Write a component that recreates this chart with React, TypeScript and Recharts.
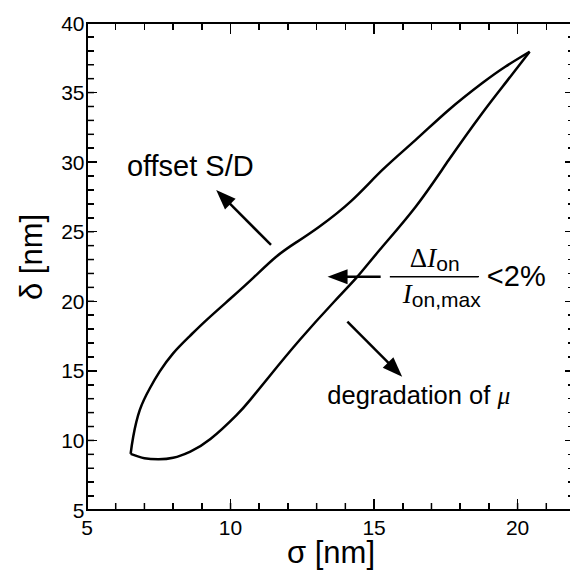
import React from 'react';
import { LineChart, Line, XAxis, YAxis, ReferenceLine, ReferenceDot, Label } from 'recharts';

// Upper branch of the loop (sigma [nm], delta [nm])
const upperSigma = [6.52, 6.61, 6.84, 7.19, 7.53, 8.0, 8.58, 9.16, 10.0, 10.8, 11.59, 12.3, 13.09, 14.2, 15.29, 16.45, 17.6, 18.76, 19.57, 20.42];
const upperDelta = [9.03, 10.27, 12.19, 13.75, 14.94, 16.26, 17.5, 18.65, 20.2, 21.7, 23.2, 24.25, 25.36, 27.2, 29.44, 31.6, 33.75, 35.67, 36.86, 37.94];
// Lower branch of the loop
const lowerSigma = [6.52, 7.0, 7.5, 8.0, 8.6, 9.3, 10.2, 10.7, 11.35, 12.4, 13.6, 14.42, 15.2, 16.45, 17.6, 18.76, 19.6, 20.42];
const lowerDelta = [9.03, 8.72, 8.64, 8.75, 9.2, 10.1, 11.8, 12.95, 14.6, 17.2, 19.95, 21.77, 23.7, 26.8, 30.15, 33.5, 35.75, 37.94];

const xMin = 5;
const xMax = 22;
const yMin = 5;
const yMax = 40;
const xTicks = [5, 6, 7, 8, 9, 10, 11, 12, 13, 14, 15, 16, 17, 18, 19, 20, 21, 22];
const yTicks = [5, 6, 7, 8, 9, 10, 11, 12, 13, 14, 15, 16, 17, 18, 19, 20, 21, 22, 23, 24, 25, 26, 27, 28, 29, 30, 31, 32, 33, 34, 35, 36, 37, 38, 39, 40];
const xLabeled = [5, 10, 15, 20];
const yLabeled = [5, 10, 15, 20, 25, 30, 35, 40];

// annotation arrows: [tail, head] in data coordinates
const arrowOffset = [{ x: 11.41, y: 24.05 }, { x: 9.5, y: 28.0 }];
const arrowMiddle = [{ x: 15.23, y: 21.77 }, { x: 13.38, y: 21.77 }];
const arrowDegr = [{ x: 14.07, y: 18.53 }, { x: 15.98, y: 14.58 }];
// fraction bar of the ΔI/I annotation
const fractionBar = [{ x: 15.55, y: 21.77 }, { x: 18.64, y: 21.77 }];
// annotation text anchors
const offsetTextPos = { x: 6.39, y: 29.0 };
const fractionPos = { x: 15.55, y: 21.77 };
const degrTextPos = { x: 13.37, y: 12.6 };

const upperData = upperSigma.map((x, i) => ({ x, y: upperDelta[i] }));
const lowerData = lowerSigma.map((x, i) => ({ x, y: lowerDelta[i] }));

const SANS = '"Liberation Sans", Arial, Helvetica, sans-serif';
const SERIF = '"Liberation Serif", "Times New Roman", serif';

// chart layout
const CHART_W = 570;
const CHART_H = 564;
const MARGIN = { top: 14, right: 2, bottom: 0, left: 0 };
const Y_AXIS_W = 79;
const X_AXIS_H = 62;
const TOP_AXIS_H = 1;
const RIGHT_AXIS_W = 1;
const PLOT_L = MARGIN.left + Y_AXIS_W;
const PLOT_R = CHART_W - MARGIN.right - RIGHT_AXIS_W;
const PLOT_T = MARGIN.top + TOP_AXIS_H;
const PLOT_B = CHART_H - MARGIN.bottom - X_AXIS_H;

const num = (v: any) => Number(v);
const sx = (v: number) => PLOT_L + ((v - xMin) / (xMax - xMin)) * (PLOT_R - PLOT_L);
const sy = (v: number) => PLOT_B - ((v - yMin) / (yMax - yMin)) * (PLOT_B - PLOT_T);

const BottomTick = (p: any) => {
  const v = p.payload.value;
  if (!xLabeled.includes(v)) return <g />;
  return (
    <text x={num(p.x)} y={num(p.y) + 25} textAnchor="middle" fontSize={21} fontFamily={SANS} fill="#000">
      {v}
    </text>
  );
};

const LeftTick = (p: any) => {
  const v = p.payload.value;
  if (!yLabeled.includes(v)) return <g />;
  return (
    <text x={num(p.x) - 2.5} y={num(p.y) + 7.5} textAnchor="end" fontSize={21} fontFamily={SANS} fill="#000">
      {v}
    </text>
  );
};

const arrowShape = (p: any) => {
  const x1 = num(p.x1);
  const y1 = num(p.y1);
  const x2 = num(p.x2);
  const y2 = num(p.y2);
  const dx = x2 - x1;
  const dy = y2 - y1;
  const len = Math.hypot(dx, dy) || 1;
  const ux = dx / len;
  const uy = dy / len;
  const hl = 20;
  const hw = 7.5;
  const bx = x2 - ux * hl;
  const by = y2 - uy * hl;
  const pts = `${x2},${y2} ${bx - uy * hw},${by + ux * hw} ${bx + uy * hw},${by - ux * hw}`;
  return (
    <g>
      <path d={`M${x1},${y1}L${bx + ux * 2},${by + uy * 2}`} stroke="#000" strokeWidth={2.5} fill="none" />
      <polygon points={pts} fill="#000" />
    </g>
  );
};

const offsetText = (p: any) => (
  <text x={p.cx} y={p.cy} fontSize={29} fontFamily={SANS} fill="#000">
    offset S/D
  </text>
);

const degrText = (p: any) => (
  <text x={p.cx} y={p.cy} fontSize={25.5} fontFamily={SANS} fill="#000">
    degradation of{' '}
    <tspan fontFamily={SERIF} fontStyle="italic">
      μ
    </tspan>
  </text>
);

const fractionText = (p: any) => {
  const x = num(p.cx);
  const y = num(p.cy);
  return (
    <g>
      <text x={x + 20} y={y - 10} fill="#000" fontSize={27} fontFamily={SERIF}>
        Δ<tspan fontStyle="italic">I</tspan>
        <tspan fontFamily={SANS} fontSize={21} dy={4}>
          on
        </tspan>
      </text>
      <text x={x + 13} y={y + 26} fill="#000" fontSize={27} fontFamily={SERIF}>
        <tspan fontStyle="italic">I</tspan>
        <tspan fontFamily={SANS} fontSize={21} dy={4}>
          on,max
        </tspan>
      </text>
      <text x={x + 97} y={y + 9} fill="#000" fontSize={29} fontFamily={SANS}>
        &lt;2%
      </text>
    </g>
  );
};

const xTitle = (p: any) => {
  const vb = p.viewBox;
  return (
    <text x={vb.x + vb.width / 2} y={vb.y + 53} textAnchor="middle" fontSize={31} fontFamily={SANS} fill="#000">
      σ [nm]
    </text>
  );
};

const yTitle = (p: any) => {
  const vb = p.viewBox;
  const cx = 34;
  const cy = vb.y + 234;
  return (
    <text x={cx} y={cy} transform={`rotate(-90 ${cx} ${cy})`} textAnchor="middle" fontSize={31} fontFamily={SANS} fill="#000">
      δ [nm]
    </text>
  );
};

const axisLine = { stroke: '#000', strokeWidth: 2 };
const tickLine = { stroke: '#000', strokeWidth: 1.5 };

// thin black bar drawn as an HTML block over the chart (frame, inward ticks, fraction bar)
const Bar = ({ x, y, w, h }: { x: number; y: number; w: number; h: number }) => (
  <div
    style={{
      position: 'absolute',
      left: x,
      top: y,
      width: w,
      height: h,
      background: '#000',
      pointerEvents: 'none',
    }}
  />
);

const FrameOverlay = () => {
  const W = PLOT_R - PLOT_L;
  const H = PLOT_B - PLOT_T;
  const tw = 1.5;
  const fw = 2;
  const bars: { x: number; y: number; w: number; h: number }[] = [];
  // frame
  bars.push({ x: PLOT_L - fw / 2, y: PLOT_T - fw / 2, w: W + fw, h: fw });
  bars.push({ x: PLOT_L - fw / 2, y: PLOT_B - fw / 2, w: W + fw, h: fw });
  bars.push({ x: PLOT_L - fw / 2, y: PLOT_T - fw / 2, w: fw, h: H + fw });
  bars.push({ x: PLOT_R - fw / 2, y: PLOT_T - fw / 2, w: fw, h: H + fw });
  // x ticks (bottom + top, inward)
  xTicks.forEach((v) => {
    const L = xLabeled.includes(v) ? 11 : 7;
    const px = sx(v);
    bars.push({ x: px - tw / 2, y: PLOT_B - L, w: tw, h: L });
    bars.push({ x: px - tw / 2, y: PLOT_T, w: tw, h: L });
  });
  // y ticks (left + right, inward)
  yTicks.forEach((v) => {
    const L = yLabeled.includes(v) ? 10 : 7;
    const py = sy(v);
    bars.push({ x: PLOT_L, y: py - tw / 2, w: L, h: tw });
    bars.push({ x: PLOT_R - L, y: py - tw / 2, w: L, h: tw });
  });
  // fraction bar
  const fx1 = sx(fractionBar[0].x);
  const fx2 = sx(fractionBar[1].x);
  const fy = sy(fractionBar[0].y);
  bars.push({ x: fx1, y: fy - 0.75, w: fx2 - fx1, h: 1.5 });
  return (
    <div style={{ position: 'absolute', left: 0, top: 0, width: CHART_W, height: CHART_H, pointerEvents: 'none' }}>
      {bars.map((b, i) => (
        <Bar key={i} {...b} />
      ))}
    </div>
  );
};

export default function App() {
  return (
    <div style={{ position: 'relative', width: CHART_W, height: CHART_H }}>
      <LineChart width={CHART_W} height={CHART_H} margin={MARGIN}>
        <XAxis
          dataKey="x"
          type="number"
          domain={[xMin, xMax]}
          ticks={xTicks}
          interval={0}
          allowDataOverflow
          height={X_AXIS_H}
          tickSize={-7}
          tickMargin={7}
          tickLine={tickLine}
          tick={BottomTick}
          axisLine={axisLine}
        >
          <Label content={xTitle} />
        </XAxis>
        <XAxis
          xAxisId="top"
          orientation="top"
          dataKey="x"
          type="number"
          domain={[xMin, xMax]}
          ticks={xTicks}
          interval={0}
          allowDataOverflow
          height={TOP_AXIS_H}
          tickSize={-7}
          tickLine={tickLine}
          tick={false}
          axisLine={axisLine}
        />
        <YAxis
          type="number"
          domain={[yMin, yMax]}
          ticks={yTicks}
          interval={0}
          allowDataOverflow
          width={Y_AXIS_W}
          tickSize={-7}
          tickMargin={7}
          tickLine={tickLine}
          tick={LeftTick}
          axisLine={axisLine}
        >
          <Label content={yTitle} />
        </YAxis>
        <YAxis
          yAxisId="right"
          orientation="right"
          type="number"
          domain={[yMin, yMax]}
          ticks={yTicks}
          interval={0}
          allowDataOverflow
          width={RIGHT_AXIS_W}
          tickSize={-7}
          tickLine={tickLine}
          tick={false}
          axisLine={axisLine}
        />
        <Line data={upperData} dataKey="y" type="natural" stroke="#000" strokeWidth={2.5} dot={false} activeDot={false} isAnimationActive={false} />
        <Line data={lowerData} dataKey="y" type="natural" stroke="#000" strokeWidth={2.5} dot={false} activeDot={false} isAnimationActive={false} />
        <Line xAxisId="top" yAxisId="right" data={upperData} dataKey="y" type="natural" stroke="none" dot={false} activeDot={false} isAnimationActive={false} />
        <ReferenceLine segment={arrowOffset} shape={arrowShape} />
        <ReferenceLine segment={arrowMiddle} shape={arrowShape} />
        <ReferenceLine segment={arrowDegr} shape={arrowShape} />
        <ReferenceLine segment={fractionBar} stroke="#000" strokeWidth={1.5} />
        <ReferenceDot x={offsetTextPos.x} y={offsetTextPos.y} r={0} shape={offsetText} />
        <ReferenceDot x={fractionPos.x} y={fractionPos.y} r={0} shape={fractionText} />
        <ReferenceDot x={degrTextPos.x} y={degrTextPos.y} r={0} shape={degrText} />
      </LineChart>
      <FrameOverlay />
    </div>
  );
}
